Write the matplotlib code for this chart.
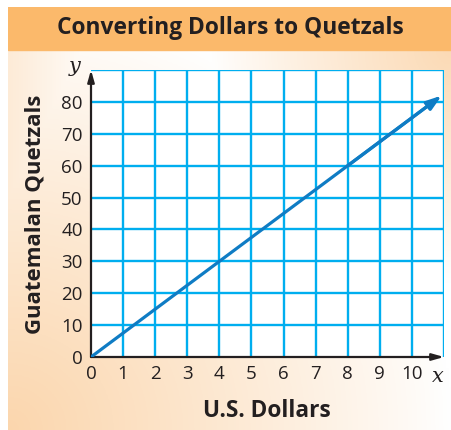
import numpy as np
import matplotlib.pyplot as plt
from matplotlib.patches import Rectangle

# data (1 US dollar = 7.5 quetzals)
dollars = [0, 4, 8, 10.93]
quetzals = [0, 30, 60, 82.0]
x_ticks = [0, 1, 2, 3, 4, 5, 6, 7, 8, 9, 10]
y_ticks = [0, 10, 20, 30, 40, 50, 60, 70, 80]

title = "Converting Dollars to Quetzals"
xlabel = "U.S. Dollars"
ylabel = "Guatemalan Quetzals"

W, H = 452, 430
fig = plt.figure(figsize=(W / 100, H / 100), dpi=100)
fig.patch.set_facecolor("white")

# card background with soft peach gradient (stronger at bottom-left and top-right)
bg = fig.add_axes([8 / W, 0, 1 - 8 / W, 1 - 7 / H])
bg.set_axis_off()
yy, xx = np.mgrid[0:1:200j, 0:1:200j]
w1 = np.clip(1 - np.hypot(xx, 1 - yy) / 1.0, 0, 1)
w2 = np.clip(1 - np.hypot(1 - xx, yy - 0.1) / 0.55, 0, 1) * 0.9
w3 = np.clip(1 - xx / 0.2, 0, 1) * 0.45
t = np.maximum(np.maximum(w1, w2), w3) ** 0.9
white = np.array([1.0, 1.0, 1.0])
peach = np.array([0.985, 0.84, 0.68])
img = white * (1 - t[..., None]) + peach * t[..., None]
bg.imshow(img, extent=[0, 1, 0, 1], aspect="auto", origin="upper")
bg.set_xlim(0, 1)
bg.set_ylim(0, 1)
# title band
band_h = 43 / (H - 7)
bg.add_patch(Rectangle((0, 1 - band_h), 1, band_h, color="#fbb96b", zorder=2))
fig.text((8 + W) / 2 / W, 1 - 28 / H, title, ha="center", va="center",
         fontsize=16.4, fontweight="bold", family="Open Sans", color="#231f20")

ax = fig.add_axes([91 / W, 73 / H, 353 / W, 287 / H])
ax.set_facecolor("white")
ax.set_xlim(0, 11)
ax.set_ylim(0, 90)
grid_c = "#00aeef"
for gx in range(1, 12):
    ax.axvline(gx, color=grid_c, lw=1.7, zorder=1)
for gy in range(10, 100, 10):
    ax.axhline(gy, color=grid_c, lw=1.7, zorder=1)
for s in ax.spines.values():
    s.set_visible(False)

ax.set_xticks(x_ticks)
ax.set_yticks(y_ticks)
ax.tick_params(length=0, labelsize=13.5, colors="#231f20")
ax.tick_params(axis="y", pad=6)
ax.tick_params(axis="x", pad=6)
for lab in ax.get_xticklabels() + ax.get_yticklabels():
    lab.set_family("Open Sans")

# axes arrows
ax.annotate("", xy=(11, 0), xytext=(0, 0),
            arrowprops=dict(arrowstyle="-|>,head_length=0.7,head_width=0.2",
                            color="#231f20", lw=1.6, shrinkA=0, shrinkB=0),
            annotation_clip=False, zorder=3)
ax.annotate("", xy=(0, 90), xytext=(0, 0),
            arrowprops=dict(arrowstyle="-|>,head_length=0.7,head_width=0.2",
                            color="#231f20", lw=1.6, shrinkA=0, shrinkB=0),
            annotation_clip=False, zorder=3)

# conversion line
ax.plot(dollars[:-1] + [dollars[-1] - 0.3], quetzals[:-1] + [quetzals[-1] - 2.25],
        color="#0f7cc4", lw=2.3, solid_capstyle="butt", zorder=4)
ax.annotate("", xy=(dollars[-1], quetzals[-1]), xytext=(dollars[-2], quetzals[-2]),
            arrowprops=dict(arrowstyle="-|>,head_length=0.9,head_width=0.3",
                            color="#0f7cc4", lw=2.3, shrinkA=0, shrinkB=0),
            annotation_clip=False, zorder=4)

ax.text(10.8, -6, "x", fontsize=15, style="italic", family="DejaVu Serif",
        ha="center", va="center", color="#231f20")
ax.text(-0.5, 91, "y", fontsize=15, style="italic", family="DejaVu Serif",
        ha="center", va="center", color="#231f20")

fig.text(267 / W, 1 - 411 / H, xlabel, ha="center", va="center",
         fontsize=16.3, fontweight="bold", family="Open Sans", color="#231f20")
fig.text(35 / W, 1 - 214 / H, ylabel, ha="center", va="center", rotation=90,
         fontsize=16, fontweight="bold", family="Open Sans", color="#231f20")

fig.savefig("out.png", dpi=100)
